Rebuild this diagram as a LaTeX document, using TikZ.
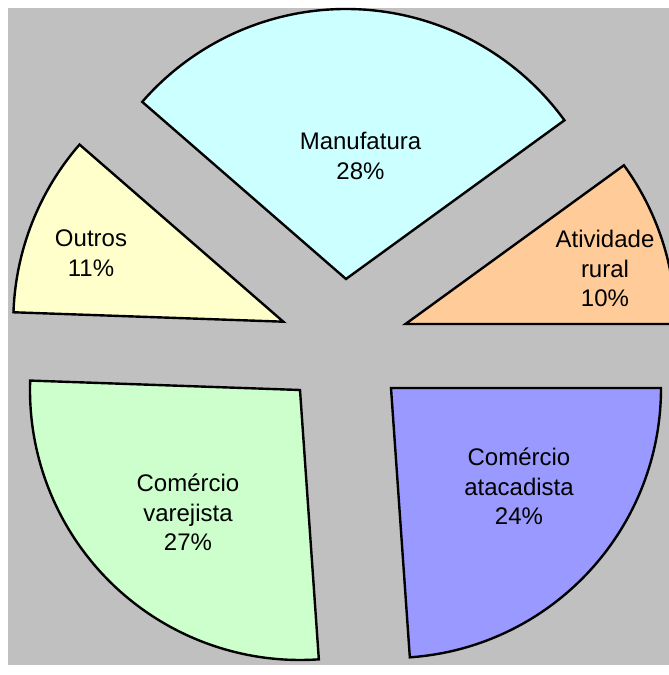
\documentclass[tikz,border=0pt]{standalone}
\usepackage{fontspec}
\setmainfont{Liberation Sans}
\usepackage{tikz}
\tikzset{>=latex}

\definecolor{bgGrey}{HTML}{C0C0C0}
\definecolor{manufCyan}{HTML}{CCFFFF}
\definecolor{ruralOrange}{HTML}{FFCC99}
\definecolor{atacBlue}{HTML}{9999FF}
\definecolor{varejGreen}{HTML}{CCFFCC}
\definecolor{outrosYellow}{HTML}{FFFFCC}

\tikzset{
  slice/.style={draw=black,line width=2.4pt},
  lbl/.style={align=center,inner sep=0pt,font=\fontsize{24}{29.5}\selectfont}
}

\begin{document}
\begin{tikzpicture}[x=1pt,y=1pt]
  \useasboundingbox (0,0) rectangle (669,675) ;
  \clip (0,0) rectangle (669,675) ;
  \fill[bgGrey] (8,10) rectangle (680,667) ;

  %% apex of each slice
  \coordinate (pRural) at (405.5,351) ;
  \coordinate (pManuf) at (346,396) ;
  \coordinate (pOutros) at (283.3,353.3) ;
  \coordinate (pVarej) at (300,285) ;
  \coordinate (pAtac) at (391,287) ;

  \draw[slice,fill=ruralOrange] (pRural) -- ++(0:270pt)
      arc[start angle=0,end angle=36,radius=270pt] -- cycle ;
  \draw[slice,fill=manufCyan] (pManuf) -- ++(36:270pt)
      arc[start angle=36,end angle=139,radius=270pt] -- cycle ;
  \draw[slice,fill=outrosYellow] (pOutros) -- ++(139:270pt)
      arc[start angle=139,end angle=178,radius=270pt] -- cycle ;
  \draw[slice,fill=varejGreen] (pVarej) -- ++(178:270pt)
      arc[start angle=178,end angle=274,radius=270pt] -- cycle ;
  \draw[slice,fill=atacBlue] (pAtac) -- ++(274:270pt)
      arc[start angle=274,end angle=360,radius=270pt] -- cycle ;

  \node[lbl] (manuf) at (360.5,519) {Manufatura\\28\%};
  \node[lbl] (rural) at (605,406.5) {Atividade\\rural\\10\%};
  \node[lbl] (atac) at (519,188.7) {Comércio\\atacadista\\24\%};
  \node[lbl] (varej) at (188,162.7) {Comércio\\varejista\\27\%};
  \node[lbl] (outros) at (91,421.6) {Outros\\11\%};

\end{tikzpicture}
\end{document}
